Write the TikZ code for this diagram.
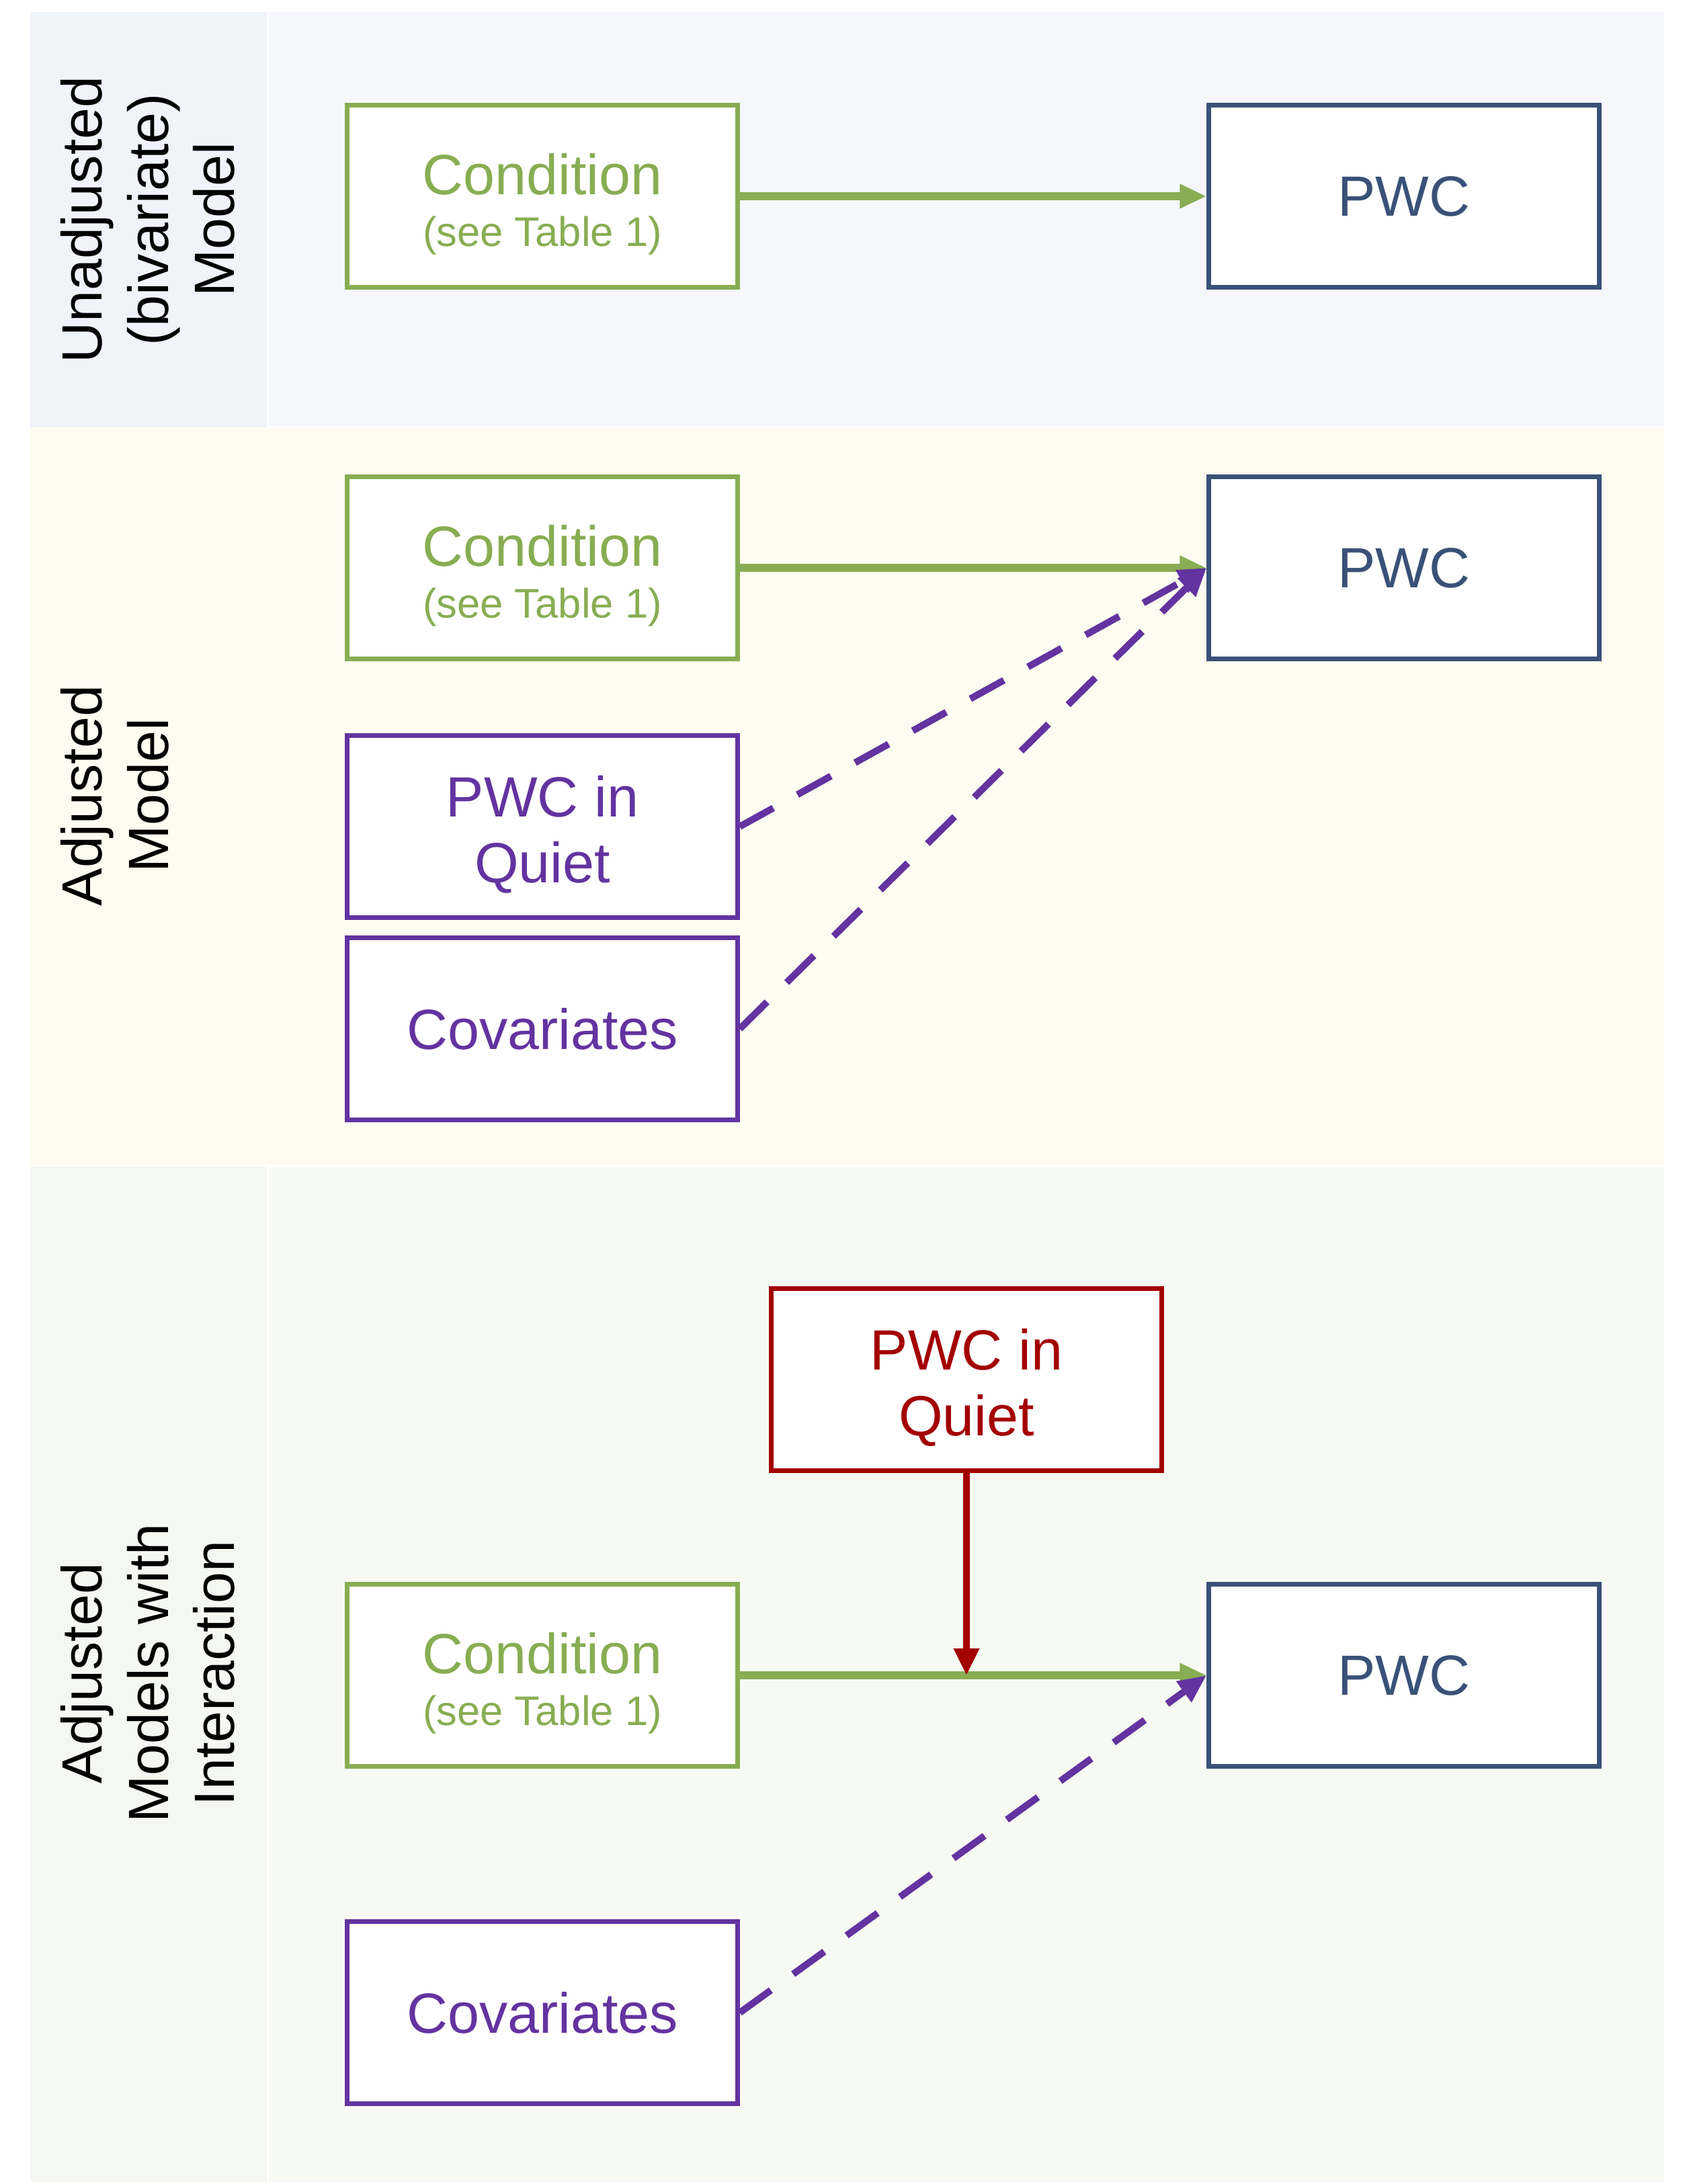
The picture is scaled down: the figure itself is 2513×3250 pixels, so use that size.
\documentclass[tikz,border=0pt]{standalone}
\usepackage{fontspec}
\setmainfont{Liberation Sans}
\usetikzlibrary{arrows.meta,calc}
\definecolor{condgreen}{HTML}{88AD52}
\definecolor{pwcblue}{HTML}{3A5178}
\definecolor{covpurple}{HTML}{6333A0}
\definecolor{quietred}{HTML}{A30000}
\definecolor{bandblue}{HTML}{F5F7FB}
\definecolor{bandbluel}{HTML}{F0F3F9}
\definecolor{bandcream}{HTML}{FEFCF1}
\definecolor{bandgreen}{HTML}{F7F9F3}
\definecolor{bandgreenl}{HTML}{F5F7F2}
\tikzset{
  box/.style={draw, line width=2pt, fill=white, minimum width=5.8cm, minimum height=2.7cm,
    align=center, font=\fontsize{24}{28}\selectfont},
  condbox/.style={box, draw=condgreen, text=condgreen},
  pwcbox/.style={box, draw=pwcblue, text=pwcblue},
  covbox/.style={box, draw=covpurple, text=covpurple},
  quietbox/.style={box, draw=quietred, text=quietred},
  bandlabel/.style={rotate=90, anchor=north, inner sep=0pt, align=center,
    font=\fontsize{24}{28}\selectfont},
  mainarrow/.style={line width=3.4pt, condgreen, -{Triangle[length=4mm, width=3.4mm]}},
  covarrow/.style={line width=2.9pt, covpurple, dash pattern=on 5.7mm off 4.1mm,
    -{Triangle[length=4.2mm, width=3.6mm]}},
  modarrow/.style={line width=2.8pt, quietred, -{Triangle[length=4mm, width=3.6mm]}}
}
\newcommand{\topstrut}{\rule{0pt}{24pt}}
\newcommand{\condtext}{\topstrut Condition\\[-6pt]{\fontsize{17.5}{21}\selectfont(see Table 1)}}
\begin{document}
\begin{tikzpicture}[x=0.01cm, y=-0.01cm, line join=miter]
	\useasboundingbox (0,0) rectangle (2513,3250);
	%
	\fill [bandbluel] (45,18) rectangle (397,636);
	\fill [bandblue] (400,18) rectangle (2476,634);
	\fill [bandcream] (45,636) rectangle (2476,1733);
	\fill [bandgreenl] (45,1736) rectangle (397,3247);
	\fill [bandgreen] (400,1737) rectangle (2476,3247);
	%
	\node [bandlabel] (lab1) at (90,327) {Unadjusted\\(bivariate)\\Model};
	\node [bandlabel] (lab2) at (90,1184) {Adjusted\\Model};
	\node [bandlabel] (lab3) at (90,2490) {Adjusted\\Models with\\Interaction};
	%
	\node [condbox] (cond1) at (807,292) {\condtext};
	\node [pwcbox] (pwc1) at (2089,292) {PWC};
	\draw [mainarrow] (cond1.east) -- (pwc1.west);
	%
	\node [condbox] (cond2) at (807,845) {\condtext};
	\node [pwcbox] (pwc2) at (2089,845) {PWC};
	\node [covbox] (quiet2) at (807,1230) {\topstrut PWC in\\Quiet};
	\node [covbox] (cov2) at (807,1531) {Covariates};
	\draw [mainarrow] (cond2.east) -- (pwc2.west);
	\draw [covarrow] (quiet2.east) -- (pwc2.west);
	\draw [covarrow] (cov2.east) -- (pwc2.west);
	%
	\node [quietbox] (quiet3) at (1438,2053) {\topstrut PWC in\\Quiet};
	\node [condbox] (cond3) at (807,2493) {\condtext};
	\node [pwcbox] (pwc3) at (2089,2493) {PWC};
	\node [covbox] (cov3) at (807,2995) {Covariates};
	\coordinate (mod) at (quiet3.south |- cond3.east);
	\draw [mainarrow] (cond3.east) -- (pwc3.west);
	\draw [modarrow] (quiet3.south) -- (mod);
	\draw [covarrow] (cov3.east) -- (pwc3.west);
\end{tikzpicture}
\end{document}
